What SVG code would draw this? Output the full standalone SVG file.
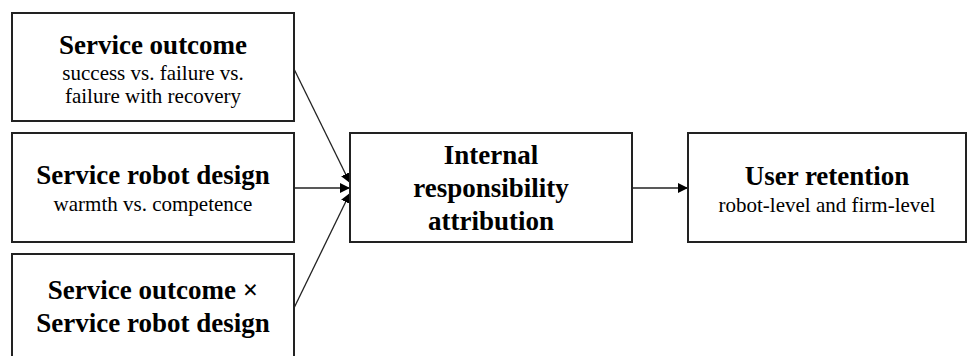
<svg xmlns="http://www.w3.org/2000/svg" width="968" height="356" viewBox="0 0 968 356">
<style>
.box{fill:#fff;stroke:#222;stroke-width:2}
.t{font-family:"Liberation Serif","Times New Roman",serif;fill:#000;text-anchor:middle}
.b{font-weight:bold;font-size:27px}
.s{font-size:21px}
.c{stroke:#222;stroke-width:1.3;fill:none;marker-end:url(#ah)}
</style>
<defs>
<marker id="ah" viewBox="0 0 10 10" refX="10" refY="5" markerWidth="10" markerHeight="10" markerUnits="userSpaceOnUse" orient="auto">
<path d="M0,0 L10,5 L0,10 Z" fill="#000"/>
</marker>
</defs>
<rect width="968" height="356" fill="#fff"/>
<g id="connectors">
<line class="c" x1="294" y1="69" x2="350" y2="183"/>
<line class="c" x1="294" y1="188" x2="350" y2="188"/>
<line class="c" x1="294" y1="308" x2="350" y2="193"/>
<line class="c" x1="632" y1="188" x2="688" y2="188"/>
</g>
<g id="n1">
<rect class="box" x="12" y="13" width="282" height="108"/>
<text class="t b" x="153" y="54">Service outcome</text>
<text class="t s" x="153" y="80">success vs. failure vs.</text>
<text class="t s" x="153" y="103">failure with recovery</text>
</g>
<g id="n2">
<rect class="box" x="12" y="133" width="282" height="109"/>
<text class="t b" x="153" y="184">Service robot design</text>
<text class="t s" x="153" y="211">warmth vs. competence</text>
</g>
<g id="n3">
<rect class="box" x="12" y="254" width="282" height="112"/>
<text class="t b" x="153" y="299">Service outcome ×</text>
<text class="t b" x="153" y="332">Service robot design</text>
</g>
<g id="n4">
<rect class="box" x="350" y="133" width="282" height="109"/>
<text class="t b" x="491" y="164">Internal</text>
<text class="t b" x="491" y="197">responsibility</text>
<text class="t b" x="491" y="230">attribution</text>
</g>
<g id="n5">
<rect class="box" x="688" y="133" width="278" height="109"/>
<text class="t b" x="827" y="185">User retention</text>
<text class="t s" x="827" y="212">robot-level and firm-level</text>
</g>
</svg>
